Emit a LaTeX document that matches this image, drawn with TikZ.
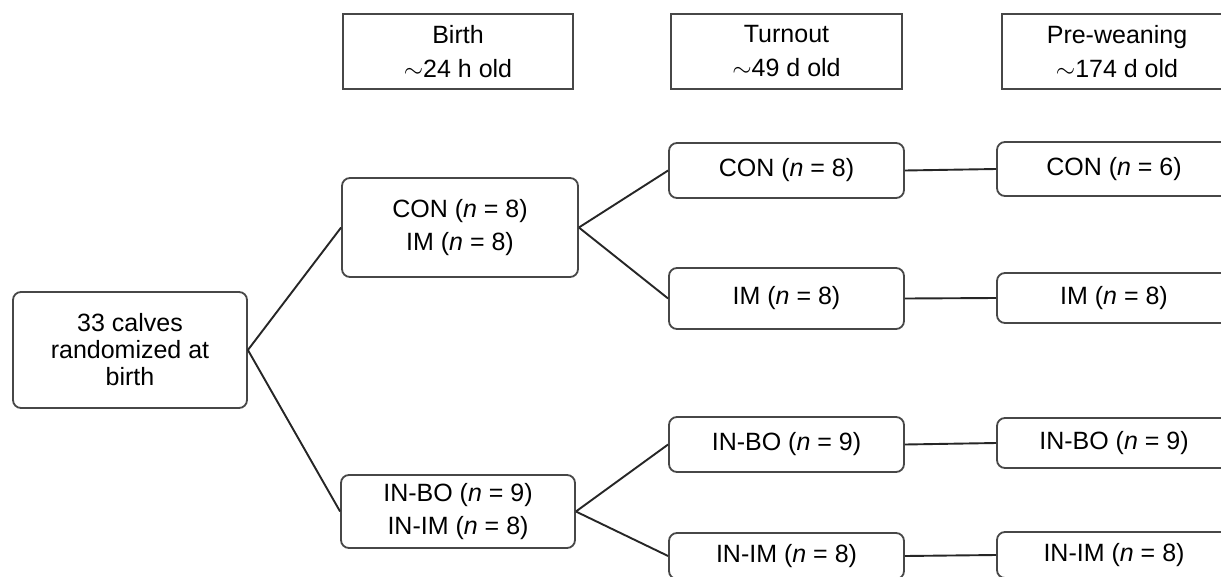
\documentclass[tikz,border=0pt]{standalone}
\usepackage{fontspec}
\setmainfont{Liberation Sans}
\begin{document}
\begin{tikzpicture}[x=1pt,y=-1pt,
  hdr/.style={draw=black!72, line width=1.8pt, minimum height=75pt, inner sep=0pt, align=center, font=\fontsize{25}{34}\selectfont},
  grp/.style={draw=black!72, line width=1.8pt, rounded corners=8pt, inner sep=0pt, align=center, font=\fontsize{25}{33}\selectfont},
  link/.style={draw=black!85, line width=1.9pt}]
\useasboundingbox (0,0) rectangle (1221,576);
\clip (0,0) rectangle (1221,576);
\fill[white] (0,0) rectangle (1221,576);
% headers
\node[hdr, minimum width=230pt] (hB) at (458,51.5) {Birth\\$\sim$24 h old};
\node[hdr, minimum width=231pt] (hT) at (786.5,51.5) {Turnout\\$\sim$49 d old};
\node[hdr, minimum width=230pt] (hP) at (1117,51.5) {Pre-weaning\\$\sim$174 d old};
% root
\node[grp, minimum width=234pt, minimum height=116pt, font=\fontsize{25}{27}\selectfont] (root) at (130,350) {33 calves\\randomized at\\birth};
% birth groups
\node[grp, minimum width=236pt, minimum height=99pt] (bA) at (460,227.5) {CON (\textit{n} = 8)\\IM (\textit{n} = 8)};
\node[grp, minimum width=234pt, minimum height=73pt] (bB) at (458,511.5) {IN-BO (\textit{n} = 9)\\IN-IM (\textit{n} = 8)};
% turnout
\node[grp, minimum width=235pt, minimum height=55pt] (tCON) at (786.5,170.5) {CON (\textit{n} = 8)};
\node[grp, minimum width=235pt, minimum height=61pt] (tIM) at (786.5,298.5) {IM (\textit{n} = 8)};
\node[grp, minimum width=235pt, minimum height=55pt] (tINBO) at (786.5,444.5) {IN-BO (\textit{n} = 9)};
\node[grp, minimum width=235pt, minimum height=46pt] (tINIM) at (786.5,556) {IN-IM (\textit{n} = 8)};
% pre-weaning
\node[grp, minimum width=234pt, minimum height=54pt] (pCON) at (1114,169) {CON (\textit{n} = 6)};
\node[grp, minimum width=234pt, minimum height=50pt] (pIM) at (1114,298) {IM (\textit{n} = 8)};
\node[grp, minimum width=234pt, minimum height=50pt] (pINBO) at (1114,443) {IN-BO (\textit{n} = 9)};
\node[grp, minimum width=234pt, minimum height=46pt] (pINIM) at (1114,555) {IN-IM (\textit{n} = 8)};
% connectors
\draw[link] (root.east) -- (bA.west);
\draw[link] (root.east) -- (bB.west);
\draw[link] (bA.east) -- (tCON.west);
\draw[link] (bA.east) -- (tIM.west);
\draw[link] (bB.east) -- (tINBO.west);
\draw[link] (bB.east) -- (tINIM.west);
\draw[link] (tCON.east) -- (pCON.west);
\draw[link] (tIM.east) -- (pIM.west);
\draw[link] (tINBO.east) -- (pINBO.west);
\draw[link] (tINIM.east) -- (pINIM.west);
\end{tikzpicture}
\end{document}
